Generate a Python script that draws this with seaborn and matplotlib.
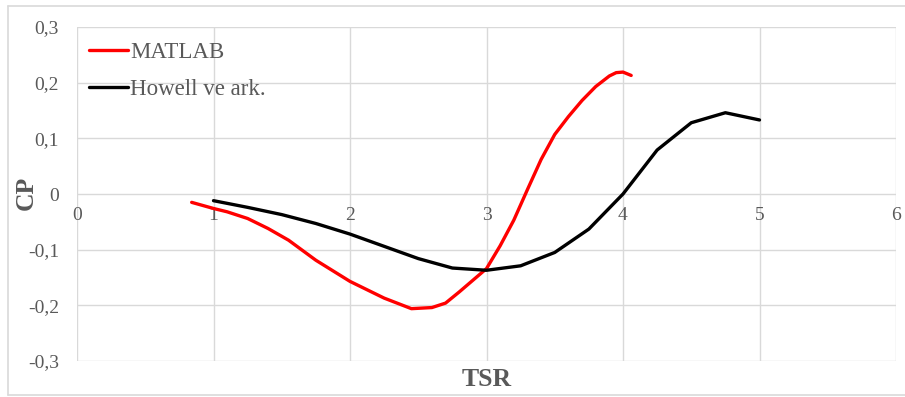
import matplotlib
matplotlib.use("Agg")
import matplotlib.pyplot as plt
import seaborn as sns
import pandas as pd
from matplotlib.lines import Line2D

# MATLAB model output: tip speed ratio vs. power coefficient
matlab_tsr = [0.84, 1.0, 1.1, 1.25, 1.4, 1.55, 1.65, 1.75, 2.0, 2.25, 2.45, 2.6,
              2.7, 2.8, 2.9, 3.0, 3.1, 3.2, 3.3, 3.4, 3.5, 3.6, 3.7, 3.8, 3.9,
              3.95, 4.0, 4.06]
matlab_cp = [-0.015, -0.026, -0.032, -0.044, -0.062, -0.083, -0.101, -0.119,
             -0.157, -0.187, -0.206, -0.204, -0.196, -0.176, -0.155, -0.134,
             -0.093, -0.047, 0.008, 0.062, 0.107, 0.139, 0.168, 0.193, 0.212,
             0.218, 0.219, 0.213]

# Howell et al. reference data
howell_tsr = [1.0, 1.25, 1.5, 1.75, 2.0, 2.25, 2.5, 2.75, 3.0, 3.25, 3.5,
              3.75, 4.0, 4.25, 4.5, 4.75, 5.0]
howell_cp = [-0.012, -0.024, -0.037, -0.053, -0.072, -0.094, -0.116, -0.133,
             -0.137, -0.129, -0.105, -0.063, 0.0, 0.079, 0.128, 0.146, 0.133]

series_names = ["MATLAB", "Howell ve ark."]
series_colors = ["#ff0000", "#000000"]

x_ticks = [0, 1, 2, 3, 4, 5, 6]
y_ticks = [-0.3, -0.2, -0.1, 0.0, 0.1, 0.2, 0.3]
y_tick_labels = ["-0,3", "-0,2", "-0,1", "0", "0,1", "0,2", "0,3"]

df = pd.concat([
    pd.DataFrame({"TSR": matlab_tsr, "CP": matlab_cp, "Seri": series_names[0]}),
    pd.DataFrame({"TSR": howell_tsr, "CP": howell_cp, "Seri": series_names[1]}),
], ignore_index=True)

sns.set_style("white")
plt.rcParams["font.family"] = ["Liberation Serif", "DejaVu Serif"]

W, H = 905, 397
fig = plt.figure(figsize=(W / 100, H / 100), dpi=100)
left, right, top, bottom = 77, 896, 27, 361
ax = fig.add_axes([left / W, 1 - bottom / H, (right - left) / W, (bottom - top) / H])

sns.lineplot(data=df, x="TSR", y="CP", hue="Seri", palette=series_colors,
             hue_order=series_names, sort=False, estimator=None,
             linewidth=2.4, ax=ax, legend=False)
for ln in ax.get_lines():
    ln.set_solid_joinstyle("round")
    ln.set_solid_capstyle("round")

ax.set_xlim(0, 6)
ax.set_ylim(-0.3, 0.3)
ax.set_xticks(x_ticks)
ax.set_yticks(y_ticks)
ax.set_xticklabels([str(t) for t in x_ticks])
ax.set_yticklabels(y_tick_labels)
ax.grid(True, color="#d9d9d9", linewidth=1.0)
ax.set_axisbelow(True)
for s in ax.spines.values():
    s.set_visible(False)
ax.spines["bottom"].set_position(("data", 0))
ax.tick_params(axis="both", length=0, labelsize=14, labelcolor="#595959")
ax.tick_params(axis="x", pad=9)
ax.tick_params(axis="y", pad=13)
ax.set_xlabel("")
ax.set_ylabel("")

fig.text(487 / W, 1 - 379 / H, "TSR", ha="center", va="center",
         fontsize=18.5, fontweight="bold", color="#595959")
fig.text(26 / W, 1 - 193 / H, "CP", ha="center", va="center", rotation=90,
         fontsize=18.5, fontweight="bold", color="#595959")

handles = [Line2D([], [], color=c, linewidth=2.4) for c in series_colors]
leg = ax.legend(handles, series_names, loc="upper left",
                bbox_to_anchor=(89 / W, 1 - 42 / H), bbox_transform=fig.transFigure,
                frameon=False, fontsize=16.5, handlelength=1.68, handletextpad=0.12,
                labelspacing=0.68, borderaxespad=0, borderpad=0)
for t in leg.get_texts():
    t.set_color("#595959")

# outer chart frame
frame_kw = dict(color="#d9d9d9", linewidth=1.2, transform=fig.transFigure)
fig.add_artist(Line2D([8 / W, 8 / W], [1 - 6 / H, 1 - 395 / H], **frame_kw))
fig.add_artist(Line2D([8 / W, 1], [1 - 6 / H, 1 - 6 / H], **frame_kw))
fig.add_artist(Line2D([8 / W, 1], [1 - 395 / H, 1 - 395 / H], **frame_kw))

fig.savefig("out.png", dpi=100)
